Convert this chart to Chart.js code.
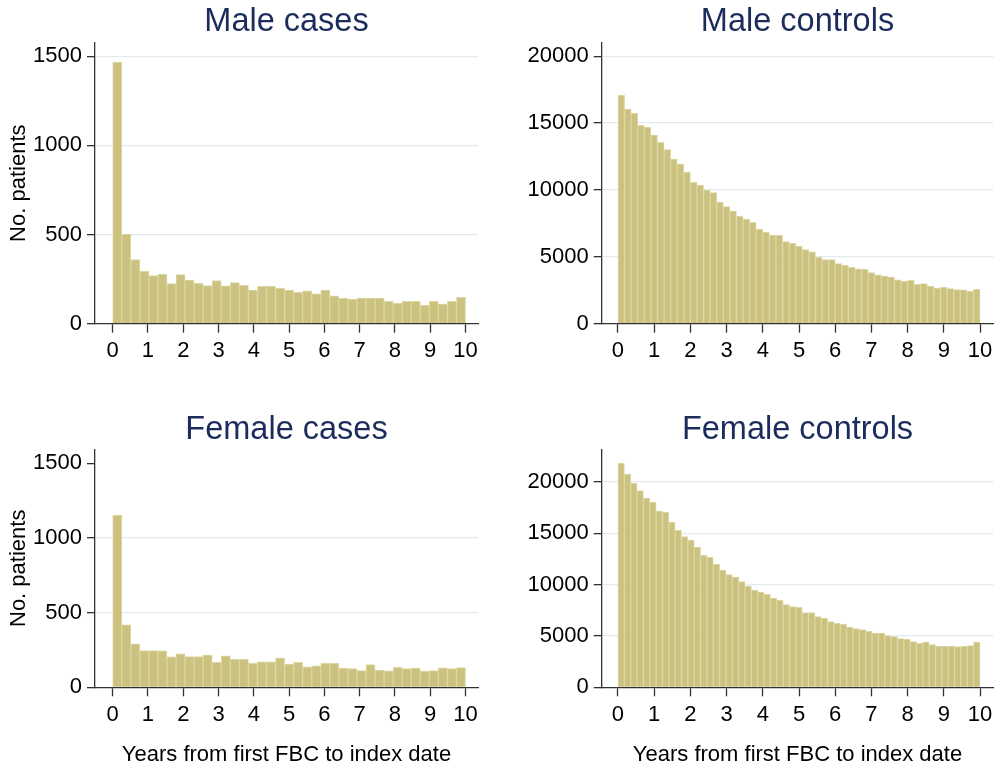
<!DOCTYPE html>
<html><head><meta charset="utf-8">
<script src="https://cdn.jsdelivr.net/npm/chart.js@4.4.0/dist/chart.umd.min.js"></script>
<style>
html,body{margin:0;padding:0;background:#fff;width:1000px;height:771px;overflow:hidden;}
.p{position:absolute;}
</style></head><body>
<div class="p" style="left:0;top:0;width:500px;height:385px"><canvas id="c1"></canvas></div>
<div class="p" style="left:500px;top:0;width:500px;height:385px"><canvas id="c2"></canvas></div>
<div class="p" style="left:0;top:385px;width:500px;height:386px"><canvas id="c3"></canvas></div>
<div class="p" style="left:500px;top:385px;width:500px;height:386px"><canvas id="c4"></canvas></div>
<script>
// ---- data (counts per histogram bin, bins evenly span 0..10 years) ----
const xTicks = [0,1,2,3,4,5,6,7,8,9,10];
const casesTicks = [0,500,1000,1500];
const controlsTicks = [0,5000,10000,15000,20000];
const binRange = [0,10];

const maleCases = [1466,502,360,294,270,277,225,275,244,227,214,242,212,230,215,189,210,210,199,189,176,185,167,189,157,142,137,144,144,144,125,114,125,125,103,125,110,125,148];

const maleControls = [17084,16061,15737,14839,14690,14116,13567,13019,12320,11946,11348,10575,10350,10001,9801,9103,8754,8430,8031,7831,7582,7083,6834,6609,6609,6135,6011,5811,5540,5370,4960,4795,4795,4505,4365,4215,4100,4065,3825,3662,3560,3485,3280,3160,3235,2945,2995,2805,2655,2715,2620,2555,2530,2430,2580];

const femaleCases = [1154,419,291,246,246,244,204,224,206,206,215,168,211,188,188,161,170,170,195,155,168,137,143,161,161,128,125,112,152,116,110,134,125,128,108,112,130,125,132];

const femaleControls = [21820,20781,19872,19157,18443,18021,17177,17047,16073,15293,14676,14352,13670,12858,12663,11981,11429,10975,10748,10293,9871,9481,9286,9059,8702,8475,8053,7858,7793,7273,7273,6884,6721,6397,6234,6137,5877,5715,5617,5455,5293,5293,5033,4935,4741,4676,4448,4286,4416,4156,3994,3994,4026,3961,3994,4059,4416];

const panelTitles = ["Male cases","Male controls","Female cases","Female controls"];
const yTitle = "No. patients";
const xTitle = "Years from first FBC to index date";

// ---- styling ----
Chart.defaults.font.family = '"Liberation Sans", Arial, Helvetica, sans-serif';
Chart.defaults.color = '#000';
const NAVY = '#1c2c5c';
const AXIS = '#333333';
const GRID = '#e2eaf0';
const BAR_FILL = '#cbc27f';
const BAR_EDGE = '#dcd6a3';
const TICK_FS = 22;

function binCenters(n){
  const w = (binRange[1]-binRange[0])/n;
  return Array.from({length:n},(_,i)=>binRange[0]+(i+0.5)*w);
}

function makePanel(id, counts, yTicks, o){
  const xs = binCenters(counts.length);
  const pts = counts.map((v,i)=>({x:xs[i], y:v}));
  new Chart(document.getElementById(id), {
    type:'bar',
    data:{datasets:[{data:pts, backgroundColor:BAR_FILL, borderColor:BAR_EDGE, borderWidth:1,
      barPercentage:1, categoryPercentage:1}]},
    options:{
      responsive:true, maintainAspectRatio:false, animation:false,
      layout:{padding:{left:0,right:o.padRight,top:0,bottom:0}},
      plugins:{legend:{display:false}, tooltip:{enabled:false}, title:{display:false}},
      scales:{
        x:{type:'linear', position:'bottom', min:o.xMin, max:o.xMax, offset:false,
          afterBuildTicks:s=>{s.ticks = xTicks.map(v=>({value:v}));},
          afterFit:s=>{s.height = o.xH;},
          ticks:{autoSkip:false, maxRotation:0, padding:5.1, font:{size:TICK_FS}, color:'#000', callback:v=>String(v)},
          grid:{display:true, drawOnChartArea:false, drawTicks:true, tickLength:9, tickColor:AXIS, tickWidth:1.3, offset:false},
          border:{display:true, color:AXIS, width:1.3},
          title:{display:o.showX, text:xTitle, font:{size:TICK_FS}, color:'#000', padding:{top:0,bottom:2.8}}
        },
        xTop:{type:'linear', position:'top', min:0, max:1, display:true,
          afterFit:s=>{s.height = o.topH;},
          ticks:{display:false}, grid:{display:false, drawTicks:false}, border:{display:false},
          title:{display:true, text:o.title, font:{size:32.5}, color:NAVY, padding:{top:o.titlePad, bottom:0}}
        },
        y:{type:'linear', position:'left', min:0, max:o.yMax,
          afterBuildTicks:s=>{s.ticks = yTicks.map(v=>({value:v}));},
          afterFit:s=>{s.width = o.yW;},
          ticks:{padding:5, font:{size:TICK_FS}, color:'#000', callback:v=>String(v)},
          grid:{drawOnChartArea:true, drawTicks:true, tickLength:8, tickColor:AXIS, tickWidth:1.3, lineWidth:1.3,
            color:c=>{const v=c.tick?c.tick.value:0; return (v===0 || (o.noGrid||[]).includes(v)) ? 'rgba(0,0,0,0)' : GRID;}},
          border:{display:true, color:AXIS, width:1.3},
          title:{display:o.showY, text:yTitle, font:{size:TICK_FS}, color:'#000', padding:{top:5.8,bottom:0}}
        }
      }
    }
  });
}

makePanel('c1', maleCases, casesTicks, {title:panelTitles[0], xMin:-0.502, xMax:10.354, yMax:1576,
  yW:95, xH:61.3, padRight:22, topH:42.7, titlePad:2.5, showX:false, showY:true});
makePanel('c2', maleControls, controlsTicks, {title:panelTitles[1], xMin:-0.45, xMax:10.367, yMax:21017,
  yW:101.7, xH:61.3, padRight:6.7, topH:42.7, titlePad:2.5, showX:false, showY:false});
makePanel('c3', femaleCases, casesTicks, {title:panelTitles[2], xMin:-0.502, xMax:10.354, yMax:1594,
  yW:95, xH:83.7, padRight:22, topH:64.3, titlePad:25.5, showX:true, showY:true, noGrid:[1500]});
makePanel('c4', femaleControls, controlsTicks, {title:panelTitles[3], xMin:-0.45, xMax:10.367, yMax:23186,
  yW:101.7, xH:83.7, padRight:6.7, topH:64.3, titlePad:25.5, showX:true, showY:false});
</script>
</body></html>
